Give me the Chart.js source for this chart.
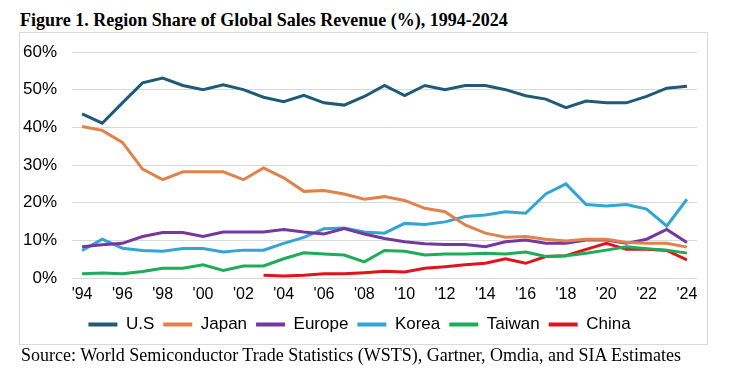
<!DOCTYPE html>
<html>
<head>
<meta charset="utf-8">
<script src="https://cdn.jsdelivr.net/npm/chart.js@4"></script>
<style>
  body { margin: 0; background: #fff; }
  #wrap { position: relative; width: 733px; height: 377px; overflow: hidden; }
  #titulo { position: absolute; left: 20px; top: 10px; font: bold 18px "Liberation Serif", "Times New Roman", serif; color: #000; white-space: nowrap; }
  #caixa { position: absolute; left: 19px; top: 32px; width: 687px; height: 311px; border: 1px solid #d9d9d9; }
  #fonte { position: absolute; left: 21px; top: 345px; font: 18px "Liberation Serif", "Times New Roman", serif; color: #000; white-space: nowrap; }
  canvas { position: absolute; left: 0; top: 0; }
</style>
</head>
<body>
<div id="wrap">
  <div id="titulo">Figure 1. Region Share of Global Sales Revenue (%), 1994-2024</div>
  <div id="caixa"></div>
  <canvas id="grafico" width="733" height="377"></canvas>
  <div id="fonte">Source: World Semiconductor Trade Statistics (WSTS), Gartner, Omdia, and SIA Estimates</div>
</div>
<script>
// anos 1994..2024, rotulo mostrado a cada 2 anos
const anos = ["'94","'95","'96","'97","'98","'99","'00","'01","'02","'03","'04","'05","'06","'07","'08","'09",
  "'10","'11","'12","'13","'14","'15","'16","'17","'18","'19","'20","'21","'22","'23","'24"];
const marcasY = [0, 10, 20, 30, 40, 50, 60];

const eua = [43.6, 41.1, 46.5, 51.8, 53.1, 51.1, 50.0, 51.3, 50.0, 48.0, 46.8, 48.5, 46.5, 45.9, 48.2, 51.1,
  48.4, 51.1, 50.0, 51.1, 51.1, 50.0, 48.4, 47.5, 45.2, 47.0, 46.5, 46.5, 48.2, 50.4, 50.9];
const japao = [40.2, 39.2, 36.0, 28.9, 26.1, 28.2, 28.2, 28.2, 26.1, 29.2, 26.6, 23.0, 23.2, 22.3, 20.9, 21.6,
  20.6, 18.5, 17.6, 14.1, 11.9, 10.8, 11.0, 10.3, 9.8, 10.3, 10.3, 9.4, 9.2, 9.2, 8.2];
const europa = [8.3, 8.8, 9.2, 11.0, 12.1, 12.1, 11.0, 12.2, 12.2, 12.2, 12.9, 12.2, 11.7, 13.1, 11.7, 10.5,
  9.6, 9.1, 8.9, 8.9, 8.3, 9.6, 10.1, 9.2, 9.2, 10.1, 10.1, 9.2, 10.3, 12.9, 9.4];
const coreia = [7.3, 10.3, 7.9, 7.3, 7.1, 7.8, 7.8, 6.9, 7.4, 7.4, 9.2, 10.8, 13.1, 13.3, 12.2, 11.9,
  14.5, 14.2, 14.9, 16.3, 16.7, 17.6, 17.2, 22.3, 25.0, 19.5, 19.1, 19.5, 18.3, 13.8, 20.9];
const taiwan = [1.1, 1.3, 1.1, 1.7, 2.6, 2.6, 3.5, 2.0, 3.2, 3.2, 5.1, 6.7, 6.4, 6.1, 4.3, 7.3,
  7.1, 6.1, 6.4, 6.4, 6.6, 6.4, 6.9, 5.7, 5.9, 6.6, 7.4, 8.3, 7.8, 7.4, 6.6];
const china = [null, null, null, null, null, null, null, null, null, 0.7, 0.5, 0.7, 1.1, 1.1, 1.4, 1.8,
  1.6, 2.6, 3.0, 3.5, 3.9, 5.1, 3.9, 5.7, 5.9, 7.6, 9.2, 7.6, 7.6, 7.3, 4.8];

function serie(nome, valores, cor) {
  return {
    label: nome,
    data: valores,
    borderColor: cor,
    backgroundColor: cor,
    borderWidth: 3,
    pointRadius: 0,
    tension: 0,
    spanGaps: false
  };
}

window.onload = function () {
  new Chart(document.getElementById('grafico'), {
    type: 'line',
    data: {
      labels: anos,
      datasets: [
        serie('U.S', eua, '#1f5a78'),
        serie('Japan', japao, '#e0824a'),
        serie('Europe', europa, '#7439a0'),
        serie('Korea', coreia, '#32a5d4'),
        serie('Taiwan', taiwan, '#1fab58'),
        serie('China', china, '#e0151c')
      ]
    },
    options: {
      responsive: false,
      animation: false,
      layout: { padding: { left: 22, right: 36, top: 52, bottom: 34 } },
      plugins: {
        legend: {
          position: 'bottom',
          labels: {
            boxWidth: 29,
            boxHeight: 4,
            padding: 9,
            color: '#000',
            font: { family: 'Liberation Sans, Arial, sans-serif', size: 17 },
            generateLabels: function (chart) {
              return Chart.defaults.plugins.legend.labels.generateLabels(chart).map(function (l) {
                l.lineWidth = 0;
                return l;
              });
            }
          }
        },
        title: { display: false },
        tooltip: { enabled: false }
      },
      scales: {
        x: {
          offset: true,
          grid: { display: false, drawTicks: false },
          border: { display: false },
          afterFit: function (eixo) { eixo.height = 29; },
          ticks: {
            autoSkip: false,
            maxRotation: 0,
            padding: 7,
            color: '#000',
            font: { family: 'Liberation Sans, Arial, sans-serif', size: 16 },
            callback: function (v, i) { return i % 2 === 0 ? anos[i] : ''; }
          }
        },
        y: {
          min: 0,
          max: 60,
          afterBuildTicks: function (eixo) { eixo.ticks = marcasY.map(function (v) { return { value: v }; }); },
          afterFit: function (eixo) { eixo.width = 50; },
          grid: { color: '#d9d9d9', lineWidth: 1, drawTicks: false },
          border: { display: false },
          ticks: {
            padding: 15,
            color: '#000',
            font: { family: 'Liberation Sans, Arial, sans-serif', size: 17 },
            callback: function (v) { return v + '%'; }
          }
        }
      }
    }
  });
};
</script>
</body>
</html>
